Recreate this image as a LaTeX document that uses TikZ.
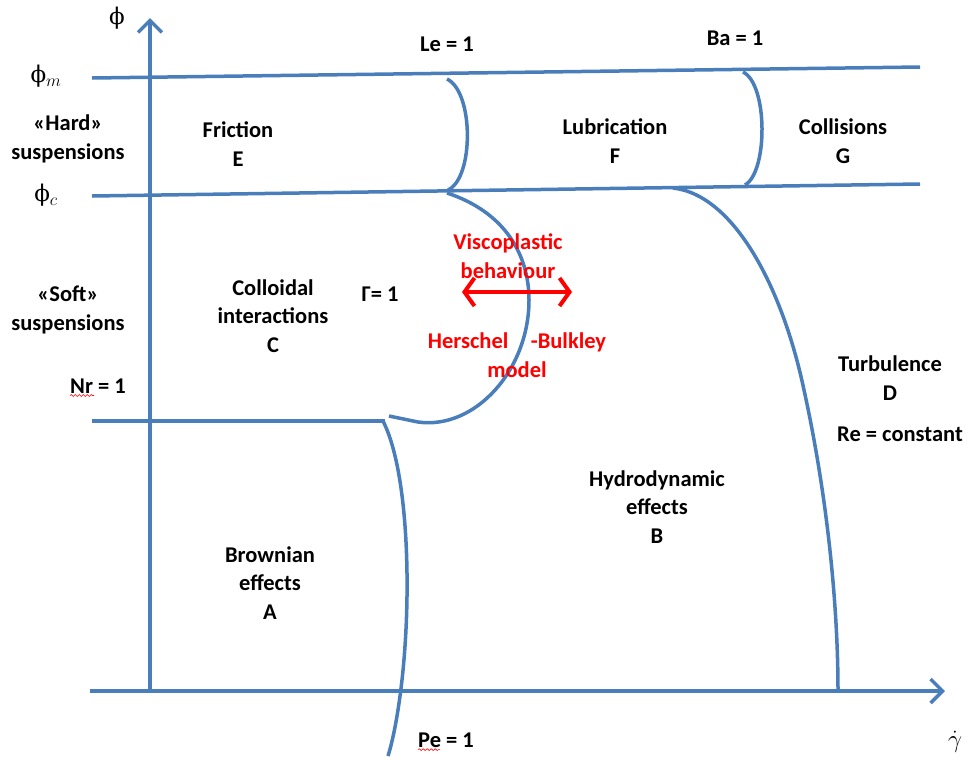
\documentclass[tikz,border=0pt]{standalone}
\usepackage{fontspec}
\setmainfont{Carlito}
\newfontfamily\phifont{DejaVu Serif}
\usetikzlibrary{arrows.meta,decorations.pathmorphing}
\definecolor{lineblue}{RGB}{74,126,187}
\definecolor{txtred}{RGB}{255,0,0}
\begin{document}
\begin{tikzpicture}[x=1pt,y=-1pt,
  bl/.style={draw=lineblue, line width=3.5pt},
  lbl/.style={font=\bfseries\fontsize{22.5}{28.5}\selectfont, align=center, inner sep=0pt},
  sym/.style={font=\fontsize{23}{26}\selectfont, inner sep=0pt},
  wavy/.style={draw=txtred, line width=0.6pt, decoration={snake, amplitude=0.9pt, segment length=4pt}, decorate},
  barb/.style={-{Straight Barb[length=12pt,width=24pt]}}]
\useasboundingbox (0,0) rectangle (972,756);
% axes
\coordinate (yb) at (150,692);
\coordinate (yt) at (150,18);
\coordinate (xl) at (90,691);
\coordinate (xr) at (945,691);
\draw[bl, barb] (yb) -- (yt);
\draw[bl, barb] (xl) -- (xr);
% horizontal limits
\coordinate (ml) at (92,78);
\coordinate (mr) at (920,67);
\coordinate (cl) at (92,196);
\coordinate (cr) at (920,184);
\coordinate (nl) at (92,421);
\coordinate (nr) at (385,421);
\draw[bl] (ml) -- (mr);
\draw[bl] (cl) -- (cr);
\draw[bl] (nl) -- (nr);
% Le and Ba curves
\coordinate (let) at (447,79);
\coordinate (leb) at (448,190);
\draw[bl] (let) .. controls (474,92) and (474,178) .. (leb);
\coordinate (bat) at (743,72);
\coordinate (bab) at (745,185);
\draw[bl] (bat) .. controls (768,84) and (768,172) .. (bab);
% Gamma curve
\coordinate (gt) at (447,193);
\coordinate (gr) at (529,300);
\coordinate (gb) at (389,416);
\draw[bl] (gt) .. controls (505,212) and (529,255) .. (gr)
  .. controls (529,370) and (475,430) .. (418,422) -- (gb);
% Pe curve
\coordinate (pt) at (383,421);
\coordinate (pb) at (388,756);
\draw[bl] (pt) .. controls (408,470) and (412,590) .. (402,680) .. controls (398,715) and (393,740) .. (pb);
% Re curve
\coordinate (rt) at (673,188);
\coordinate (rb) at (838,691);
\draw[bl] (rt) .. controls (735,195) and (783,290) .. (804,390) .. controls (826,490) and (838,600) .. (rb);
% red arrow
\coordinate (al) at (462,292);
\coordinate (ar) at (572,292);
\draw[draw=txtred, line width=4pt, {Straight Barb[length=10pt,width=28pt]}-{Straight Barb[length=10pt,width=28pt]}] (al) -- (ar);
% symbols
\node[sym] (phi) at (117,18) {\phifont ϕ};
\node[sym] (phim) at (46,76) {\phifont ϕ$_m$};
\node[sym] (phic) at (46,195) {\phifont ϕ$_c$};
\node[sym] (gdot) at (955,742) {$\dot{\gamma}$};
% labels
\node[lbl] (hard) at (68,139) {«Hard»\\suspensions};
\node[lbl] (soft) at (68,310) {«Soft»\\suspensions};
\node[lbl] (nrl) at (98,386) {Nr = 1};
\node[lbl] (le) at (447,44) {Le = 1};
\node[lbl] (ba) at (735,38) {Ba = 1};
\node[lbl] (fric) at (238,144) {Friction\\E};
\node[lbl] (lub) at (615,141) {Lubrication\\F};
\node[lbl] (colg) at (843,141) {Collisions\\G};
\node[lbl] (colc) at (273,316) {Colloidal\\interactions\\C};
\node[lbl] (gam) at (380,294) {Γ= 1};
\node[lbl] (turb) at (890,378) {Turbulence\\D};
\node[lbl] (re) at (900,434) {Re = constant};
\node[lbl] (hydro) at (657,507) {Hydrodynamic\\effects\\B};
\node[lbl] (brown) at (270,583) {Brownian\\effects\\A};
\node[lbl] (pe) at (446,740) {Pe = 1};
\node[lbl, text=txtred] (visc) at (508,256) {Viscoplastic\\behaviour};
\node[lbl, text=txtred] (hb) at (517,355) {Herschel\quad-Bulkley\\model};
% spell-check underlines
\draw[wavy] ([yshift=-2pt]nrl.south west) -- ([xshift=24pt,yshift=-2pt]nrl.south west);
\draw[wavy] ([yshift=-2pt]pe.south west) -- ([xshift=22pt,yshift=-2pt]pe.south west);
\end{tikzpicture}
\end{document}
